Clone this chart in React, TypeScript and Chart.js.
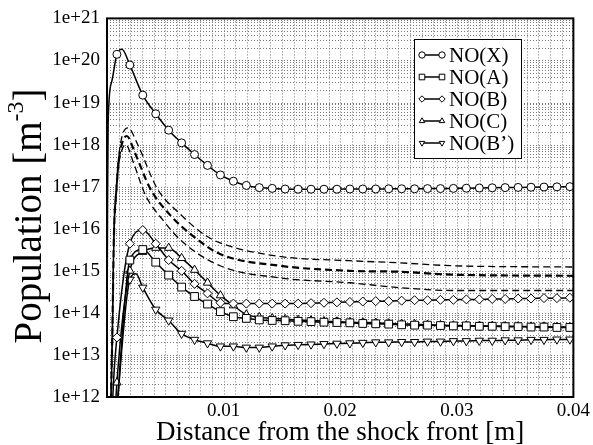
import React, { useEffect, useRef } from 'react';
import { Chart, registerables } from 'chart.js';

Chart.register(...registerables);

const FONT = '"Liberation Serif", "Times New Roman", serif';

// x positions of the marked samples [m]
const markerX = [
  0.00085, 0.00196, 0.00307, 0.00418, 0.00529, 0.0064, 0.00751, 0.00862, 0.00973,
  0.01084, 0.01195, 0.01306, 0.01417, 0.01528, 0.01639, 0.0175, 0.01861, 0.01972,
  0.02083, 0.02194, 0.02305, 0.02416, 0.02527, 0.02638, 0.02749, 0.0286, 0.02971,
  0.03082, 0.03193, 0.03304, 0.03415, 0.03526, 0.03637, 0.03748, 0.03859, 0.0397,
];

const noX = [
  1.4e20, 7.8e19, 1.5e19, 5.4e18, 2.2e18, 1.1e18, 5.8e17, 3.2e17, 1.9e17,
  1.35e17, 1.07e17, 9.5e16, 9.1e16, 8.8e16, 8.7e16, 8.7e16, 8.7e16, 8.7e16,
  8.8e16, 8.8e16, 8.8e16, 8.9e16, 8.9e16, 8.9e16, 9.0e16, 9.0e16, 9.1e16,
  9.2e16, 9.3e16, 9.4e16, 9.5e16, 9.6e16, 9.7e16, 9.8e16, 9.9e16, 1.0e17,
];
const noA = [
  5e11, 1.8e15, 3.2e15, 1.6e15, 7.9e14, 4.1e14, 2.45e14, 1.62e14, 1.07e14,
  8.1e13, 7.4e13, 6.8e13, 6.6e13, 6.5e13, 6.3e13, 6.2e13, 6.0e13, 5.9e13,
  5.8e13, 5.6e13, 5.5e13, 5.4e13, 5.2e13, 5.1e13, 5.1e13, 5.0e13, 4.9e13,
  4.9e13, 4.8e13, 4.8e13, 4.7e13, 4.7e13, 4.6e13, 4.6e13, 4.5e13, 4.5e13,
];
const noB = [
  2.6e13, 4.4e15, 9.3e15, 4.4e15, 1.8e15, 1.0e15, 4.9e14, 2.9e14, 1.74e14,
  1.66e14, 1.66e14, 1.66e14, 1.66e14, 1.66e14, 1.66e14, 1.7e14, 1.74e14, 1.78e14,
  1.82e14, 1.86e14, 1.9e14, 1.9e14, 1.95e14, 2.0e14, 2.0e14, 2.04e14, 2.04e14,
  2.09e14, 2.09e14, 2.14e14, 2.14e14, 2.19e14, 2.19e14, 2.24e14, 2.24e14, 2.29e14,
];
const noC = [
  2.2e12, 1.0e15, 2.8e15, 3.5e15, 3.5e15, 2.0e15, 1.05e15, 5.2e14, 2.6e14,
  1.5e14, 9.1e13, 7.9e13, 7.4e13, 7.1e13, 6.8e13, 6.6e13, 6.3e13, 6.2e13,
  6.0e13, 5.9e13, 5.8e13, 5.6e13, 5.5e13, 5.4e13, 5.2e13, 5.1e13, 5.0e13,
  5.0e13, 4.9e13, 4.9e13, 4.8e13, 4.8e13, 4.7e13, 4.7e13, 4.6e13, 4.6e13,
];
const noBp = [
  5e11, 6.2e14, 4.0e14, 1.2e14, 6.6e13, 3.2e13, 2.3e13, 1.9e13, 1.6e13,
  1.6e13, 1.5e13, 1.5e13, 1.6e13, 1.7e13, 1.74e13, 1.78e13, 1.82e13, 1.86e13,
  1.9e13, 1.95e13, 2.0e13, 2.0e13, 2.04e13, 2.04e13, 2.09e13, 2.09e13, 2.14e13,
  2.14e13, 2.19e13, 2.19e13, 2.24e13, 2.24e13, 2.29e13, 2.29e13, 2.34e13, 2.34e13,
];

// extra unmarked samples (initial rise, peaks, end of domain)
const noXExtraX = [0, 0.00005, 0.0001, 0.0004, 0.00128, 0.04];
const noXExtraY = [1e13, 5e16, 3.5e18, 3.1e19, 1.85e20, 1.0e17];
const noAExtraX = [0.0004, 0.04];
const noAExtraY = [1e10, 4.5e13];
const noBExtraX = [0.0003, 0.0005, 0.04];
const noBExtraY = [1e10, 1e12, 2.3e14];
const noCExtraX = [0.0004, 0.04];
const noCExtraY = [1e10, 4.6e13];
const noBpExtraX = [0.0004, 0.00248, 0.04];
const noBpExtraY = [1e10, 8.5e14, 2.36e13];

// dashed (unlabelled) curves
const dash1X = [0.0003, 0.00045, 0.0006, 0.0008, 0.001, 0.0013, 0.0018, 0.0026, 0.0043, 0.0063, 0.0083, 0.0097, 0.0148, 0.0208, 0.025, 0.0296, 0.04];
const dash1Y = [3.2e11, 3.2e13, 1e16, 1e17, 5e17, 1.6e18, 2.5e18, 1.05e18, 9.1e16, 2.2e16, 7.4e15, 4.6e15, 2.2e15, 1.74e15, 1.55e15, 1.32e15, 1.23e15];
const dash2X = [0.0003, 0.00045, 0.0006, 0.0008, 0.001, 0.0013, 0.0017, 0.0024, 0.0037, 0.0055, 0.0075, 0.0097, 0.0148, 0.0208, 0.025, 0.0296, 0.04];
const dash2Y = [2.5e11, 2.5e13, 7.9e15, 7.9e16, 4e17, 1.1e18, 1.6e18, 6.3e17, 9.1e16, 2.0e16, 6.3e15, 2.5e15, 1.32e15, 1.0e15, 9.5e14, 8.1e14, 7.6e14];
const dash3X = [0.0003, 0.00045, 0.0006, 0.0008, 0.001, 0.0012, 0.0016, 0.0023, 0.0033, 0.0048, 0.0064, 0.0097, 0.0148, 0.0208, 0.025, 0.0296, 0.04];
const dash3Y = [2e11, 2e13, 6.3e15, 6.3e16, 3.2e17, 6.3e17, 1e18, 3.5e17, 6.3e16, 1.6e16, 5.1e15, 1.32e15, 6.8e14, 5.2e14, 4e14, 3.4e14, 3.4e14];

const xTickValues = [0.01, 0.02, 0.03, 0.04];
const xTickLabels = ['0.01', '0.02', '0.03', '0.04'];
const yTickValues = [1e12, 1e13, 1e14, 1e15, 1e16, 1e17, 1e18, 1e19, 1e20, 1e21];
const yTickLabels = ['1e+12', '1e+13', '1e+14', '1e+15', '1e+16', '1e+17', '1e+18', '1e+19', '1e+20', '1e+21'];

const xTitle = 'Distance from the shock front [m]';
const yTitleMain = 'Population [m';
const yTitleSup = '-3';
const yTitleEnd = ']';

const species = [
  { label: 'NO(X)', y: noX, ex: noXExtraX, ey: noXExtraY, style: 'circle', r: 4, rot: 0 },
  { label: 'NO(A)', y: noA, ex: noAExtraX, ey: noAExtraY, style: 'rect', r: 5.5, rot: 0 },
  { label: 'NO(B)', y: noB, ex: noBExtraX, ey: noBExtraY, style: 'rectRot', r: 4.5, rot: 0 },
  { label: 'NO(C)', y: noC, ex: noCExtraX, ey: noCExtraY, style: 'triangle', r: 4.8, rot: 0 },
  { label: 'NO(B\u2019)', y: noBp, ex: noBpExtraX, ey: noBpExtraY, style: 'triangle', r: 4.8, rot: 180 },
];

function buildPoints(mx: number[], my: number[], ex: number[], ey: number[]) {
  const pts = mx.map((x, i) => ({ x, y: my[i], m: true }))
    .concat(ex.map((x, i) => ({ x, y: ey[i], m: false })));
  pts.sort((a, b) => a.x - b.x);
  return pts;
}

function drawSymbol(ctx: CanvasRenderingContext2D, style: string, rot: number, x: number, y: number, r: number) {
  ctx.beginPath();
  if (style === 'circle') {
    ctx.arc(x, y, r, 0, Math.PI * 2);
  } else if (style === 'rect') {
    ctx.rect(x - r, y - r, 2 * r, 2 * r);
  } else if (style === 'rectRot') {
    ctx.moveTo(x, y - r); ctx.lineTo(x + r, y); ctx.lineTo(x, y + r); ctx.lineTo(x - r, y); ctx.closePath();
  } else {
    const s = rot ? -1 : 1;
    ctx.moveTo(x, y - s * r);
    ctx.lineTo(x + r * 0.866, y + s * r * 0.5);
    ctx.lineTo(x - r * 0.866, y + s * r * 0.5);
    ctx.closePath();
  }
  ctx.fillStyle = '#fff';
  ctx.fill();
  ctx.lineWidth = 1;
  ctx.strokeStyle = '#000';
  ctx.stroke();
}

const gridPlugin = {
  id: 'dottedGrid',
  beforeDatasetsDraw(chart: any) {
    const { ctx, chartArea: a, scales } = chart;
    const xs = scales.x, ys = scales.y;
    ctx.save();
    ctx.strokeStyle = '#7a7a7a';
    ctx.lineWidth = 1;
    ctx.setLineDash([1, 2]);
    ctx.beginPath();
    for (let i = 1; i < 40; i++) {
      const px = Math.round(xs.getPixelForValue(i * 0.001)) + 0.5;
      ctx.moveTo(px, a.top);
      ctx.lineTo(px, a.bottom);
    }
    for (let e = 12; e < 21; e++) {
      for (let m = 1; m < 10; m++) {
        if (e === 12 && m === 1) continue;
        const py = Math.round(ys.getPixelForValue(m * Math.pow(10, e))) + 0.5;
        ctx.moveTo(a.left, py);
        ctx.lineTo(a.right, py);
      }
    }
    ctx.stroke();
    ctx.restore();
  },
};

const framePlugin = {
  id: 'frameLegendTitles',
  afterDatasetsDraw(chart: any) {
    const { ctx, chartArea: a } = chart;
    ctx.save();
    ctx.strokeStyle = '#000';
    ctx.lineWidth = 2;
    ctx.setLineDash([]);
    ctx.strokeRect(a.left, a.top, a.right - a.left, a.bottom - a.top);

    // legend
    const lx = 414, ly = 39, lw = 107, lh = 119;
    ctx.fillStyle = '#fff';
    ctx.fillRect(lx, ly, lw, lh);
    ctx.lineWidth = 1;
    ctx.strokeRect(lx + 0.5, ly + 0.5, lw, lh);
    species.forEach((s, i) => {
      const cy = 55 + i * 22;
      ctx.beginPath();
      ctx.moveTo(422, cy);
      ctx.lineTo(442, cy);
      ctx.lineWidth = 1.5;
      ctx.strokeStyle = '#000';
      ctx.stroke();
      const rr = s.style === 'rect' ? 2.8 : 3.2;
      drawSymbol(ctx, s.style, s.rot, 422, cy, rr);
      drawSymbol(ctx, s.style, s.rot, 442, cy, rr);
      ctx.fillStyle = '#000';
      ctx.font = `21px ${FONT}`;
      ctx.textAlign = 'left';
      ctx.textBaseline = 'middle';
      ctx.fillText(s.label, 449, cy + 1);
    });

    // x title
    ctx.fillStyle = '#000';
    ctx.font = `27px ${FONT}`;
    ctx.textAlign = 'center';
    ctx.textBaseline = 'alphabetic';
    ctx.fillText(xTitle, (a.left + a.right) / 2, 440);

    // y title with superscript
    ctx.save();
    ctx.translate(41, 216);
    ctx.rotate(-Math.PI / 2);
    const mainFont = `39px ${FONT}`;
    const supFont = `24px ${FONT}`;
    ctx.font = mainFont;
    const w1 = ctx.measureText(yTitleMain).width;
    const w3 = ctx.measureText(yTitleEnd).width;
    ctx.font = supFont;
    const w2 = ctx.measureText(yTitleSup).width;
    const x0 = -(w1 + w2 + w3) / 2;
    ctx.textAlign = 'left';
    ctx.font = mainFont;
    ctx.fillText(yTitleMain, x0, 0);
    ctx.font = supFont;
    ctx.fillText(yTitleSup, x0 + w1, -18);
    ctx.font = mainFont;
    ctx.fillText(yTitleEnd, x0 + w1 + w2, 0);
    ctx.restore();
    ctx.restore();
  },
};

export default function App() {
  const ref = useRef<HTMLCanvasElement | null>(null);
  useEffect(() => {
    document.body.style.margin = '0';
    const canvas = ref.current;
    if (!canvas) return;
    const datasets: any[] = species.map((s) => ({
      label: s.label,
      data: buildPoints(markerX, s.y, s.ex, s.ey),
      borderColor: '#000',
      borderWidth: 1.5,
      backgroundColor: '#fff',
      pointStyle: s.style,
      pointRotation: s.rot,
      pointRadius: (c: any) => (c.raw && c.raw.m ? s.r : 0),
      pointHoverRadius: 0,
      pointBackgroundColor: '#fff',
      pointBorderColor: '#000',
      pointBorderWidth: 1,
      cubicInterpolationMode: 'monotone',
      fill: false,
    }));
    [[dash1X, dash1Y, 1.3], [dash2X, dash2Y, 2.2], [dash3X, dash3Y, 1.3]].forEach(([xs, ys, w]: any, i) => {
      datasets.push({
        label: 'dashed' + (i + 1),
        data: xs.map((x: number, k: number) => ({ x, y: ys[k] })),
        borderColor: '#000',
        borderWidth: w,
        borderDash: [7, 4],
        pointRadius: 0,
        cubicInterpolationMode: 'monotone',
        fill: false,
      });
    });
    const tickFont = { family: FONT, size: 19 };
    const chart = new Chart(canvas, {
      type: 'line',
      data: { datasets },
      options: {
        responsive: false,
        animation: false,
        devicePixelRatio: 1,
        events: [],
        layout: { padding: { top: 16, right: 18, left: 0, bottom: 0 } },
        plugins: { legend: { display: false }, tooltip: { enabled: false }, title: { display: false } },
        scales: {
          x: {
            type: 'linear',
            min: 0,
            max: 0.04,
            grid: { display: false, drawTicks: false },
            border: { display: false },
            afterBuildTicks: (s: any) => { s.ticks = xTickValues.map((v) => ({ value: v })); },
            afterFit: (s: any) => { s.height = 48; },
            ticks: {
              autoSkip: false,
              maxRotation: 0,
              padding: 3,
              color: '#000',
              font: tickFont,
              callback: (_v: any, i: number) => xTickLabels[i],
            },
          },
          y: {
            type: 'logarithmic',
            min: 1e12,
            max: 1e21,
            grid: { display: false, drawTicks: false },
            border: { display: false },
            afterBuildTicks: (s: any) => { s.ticks = yTickValues.map((v) => ({ value: v })); },
            afterFit: (s: any) => { s.width = 107; },
            ticks: {
              autoSkip: false,
              padding: 7,
              color: '#000',
              font: tickFont,
              callback: (_v: any, i: number) => yTickLabels[i],
            },
          },
        },
      } as any,
      plugins: [gridPlugin, framePlugin],
    });
    return () => chart.destroy();
  }, []);
  return (
    <div style={{ width: 593, height: 445 }}>
      <canvas ref={ref} width={593} height={445} style={{ display: 'block' }} />
    </div>
  );
}
